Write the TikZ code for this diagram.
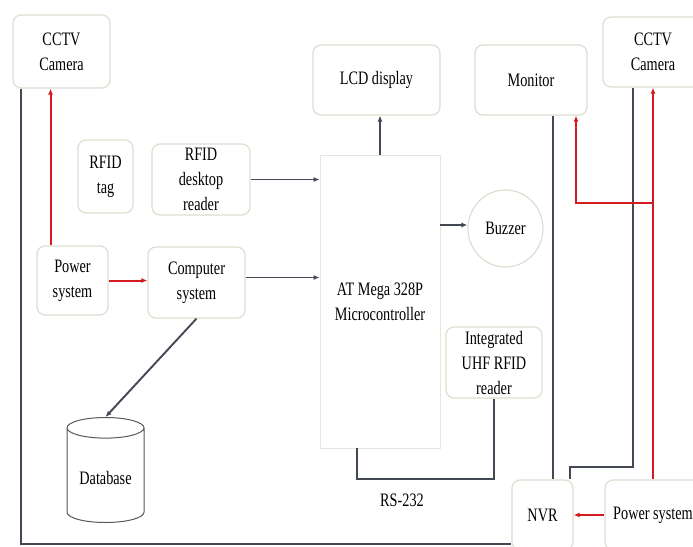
\documentclass[tikz,border=0pt]{standalone}
\usepackage{fontspec}
\setmainfont{Liberation Serif}[FakeStretch=0.75]
\usetikzlibrary{arrows.meta,shapes.geometric}
\definecolor{boxline}{RGB}{222,222,208}
\definecolor{wire}{RGB}{66,72,84}
\definecolor{power}{RGB}{210,28,32}
\tikzset{
  box/.style={draw=boxline,line width=1.2pt,rounded corners=8pt,align=center,
    inner sep=2pt,font=\fontsize{19}{25}\selectfont},
  wire/.style={draw=wire,line width=1.9pt},
  link/.style={wire,-{Latex[length=6pt,width=5pt]}},
  feed/.style={draw=power,line width=2pt,-{Latex[length=6pt,width=5pt]}}
}
\begin{document}
\begin{tikzpicture}[x=1pt,y=-1pt]
        \clip (0,0) rectangle (693,546);
        \fill[white] (0,0) rectangle (693,546);
        \draw (61.5,51.5) node[box,minimum width=97,minimum height=73](cam1){CCTV\\Camera};
        \draw (105.5,176.5) node[box,minimum width=55,minimum height=73](tag){RFID\\tag};
        \draw (201,179.5) node[box,minimum width=98,minimum height=71](desk){RFID\\desktop\\reader};
        \draw (72.5,280.5) node[box,minimum width=71,minimum height=69](pow1){Power\\system};
        \draw (196.5,282.5) node[box,minimum width=97,minimum height=71](comp){Computer\\system};
        \draw (105.5,477.5) node[draw=black!65,line width=1pt,cylinder,shape border rotate=90,aspect=0.35,
          minimum width=77,minimum height=105,font=\fontsize{19}{25}\selectfont](db){Database};
        \draw (376.5,80) node[box,minimum width=127,minimum height=70](lcd){LCD display};
        \draw (380,301.5) node[box,draw=boxline!75,line width=0.9pt,rounded corners=0pt,
          minimum width=120,minimum height=293](mcu){AT Mega 328P\\Microcontroller};
        \draw (505.5,228.5) node[draw=boxline,line width=1.2pt,ellipse,minimum width=75,minimum height=77,
          font=\fontsize{19}{25}\selectfont](buzz){Buzzer};
        \draw (531,80) node[box,minimum width=112,minimum height=70](mon){Monitor};
        \draw (653,52) node[box,minimum width=100,minimum height=70](cam2){CCTV\\Camera};
        \draw (494,362.5) node[box,minimum width=96,minimum height=71](uhf){Integrated\\UHF RFID\\reader};
        \draw (542.5,515) node[box,minimum width=61,minimum height=70](nvr){NVR};
        \draw (653,515) node[box,minimum width=96,minimum height=70](pow2){Power system};
        \draw (402,500) node[font=\fontsize{19}{25}\selectfont](rs){RS-232};
        \coordinate (jn) at (653,203);
        \draw[link] (desk.east) -- (desk.east -| mcu.west);
        \draw[link] ([yshift=5pt]comp.east) coordinate (ce) -- (ce -| mcu.west);
        \draw[link] (comp.south) -- (db.top);
        \draw[link] (mcu.north) -- (mcu.north |- lcd.south);
        \draw[link] (mcu.east |- 0,225) -- (buzz.west |- 0,225);
        \draw[wire] ([xshift=-23pt]mcu.south) coordinate (ra) |- (uhf.south |- nvr.north) -- (uhf.south);
        \draw[wire] ([xshift=22pt]mon.south) coordinate (ma) -- (ma |- nvr.north);
        \draw[wire] ([xshift=-20pt]cam2.south) coordinate (ca) |- ([yshift=12pt,xshift=-4pt]nvr.north east)
          -- ([xshift=-4pt]nvr.north east);
        \draw[wire] ([xshift=9pt]cam1.south west) coordinate (wa) |- ([yshift=7pt]nvr.south west);
        \draw[feed] ([xshift=-22pt]pow1.north) coordinate (pa) -- (pa |- cam1.south);
        \draw[feed] (pow1.east) -- (pow1.east -| comp.west);
        \draw[feed] (pow2.north) -- (pow2.north |- cam2.south);
        \draw[feed] (jn) -| ([xshift=45pt]mon.south);
        \draw[feed] (pow2.west) -- (nvr.east);
      \end{tikzpicture}
\end{document}
